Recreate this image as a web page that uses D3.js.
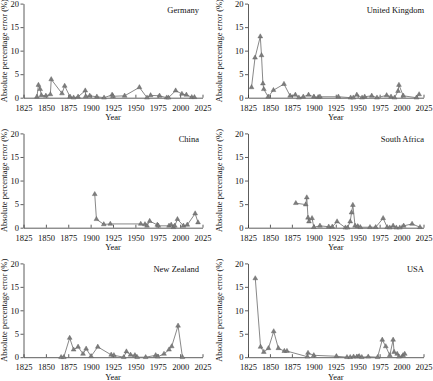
<!DOCTYPE html>
<html><head><meta charset="utf-8">
<script src="https://cdn.jsdelivr.net/npm/d3@7"></script>
<style>body{margin:0;background:#fff}svg{display:block}text{font-family:"Liberation Serif","Times New Roman",serif}</style>
</head><body>
<svg id="c" width="433" height="381"></svg>
<script>
const xTicks = [1825, 1850, 1875, 1900, 1925, 1950, 1975, 2000, 2025];
const yTicks = [0, 5, 10, 15, 20];
const countries = ["Germany", "United Kingdom", "China", "South Africa", "New Zealand", "USA"];

const germanyYears = [1840,1841.7,1843.6,1845,1850,1855,1856,1868,1871,1877,1881,1886,1894,1894.5,1899,1907,1915,1924,1925,1938,1954.5,1963,1967,1977,1985,1987,1995,2002,2007,2013,2016];
const germanyValues = [0.2,2.7,1.8,0.5,0.4,0.7,3.9,0.9,2.5,0.2,0,0.2,1.5,0.3,0.4,0.2,0,0.6,0.3,0.4,2.2,0,0.5,0.4,0,0,1.5,0.8,0.6,0.1,0.1];

const ukYears = [1829,1833,1839,1840.4,1842,1843,1848,1854,1866,1873,1879,1883,1888,1894,1900,1905,1907,1928,1942,1945,1949,1955,1958,1966,1972,1983,1988,1992,1996,1997,2002,2017,2020];
const ukValues = [2.2,8.5,13.0,9.0,3.0,1.8,0.2,1.6,2.9,0.4,0.6,0,0.2,0.6,0.2,0.1,0.2,0.2,0,0,0.6,0,0.2,0.4,0,0.5,0.2,0,1.4,2.7,0.4,0,0.7];

const chinaYears = [1904.6,1906.5,1914.7,1922,1956,1960.7,1963,1966,1974.5,1975.6,1987.6,1990,1992.5,1994,1997,2003.7,2008,2016.8,2020];
const chinaValues = [7.1,1.8,0.7,0.8,0.8,0.7,0.4,1.4,0.6,0.4,0.4,0.6,0.1,0.4,1.8,0.4,0.6,3.0,1.1];

const southAfricaYears = [1879.5,1890.8,1892,1893.4,1894.5,1898,1900,1907,1917,1921,1926.5,1936,1938.5,1941.5,1943,1944.5,1947,1950,1953,1964,1970.5,1979,1983.6,1986.6,1990.4,1994,1998,2002.4,2012,2021];
const southAfricaValues = [5.2,4.9,6.4,2.1,1.3,2.0,0.1,0.4,0.2,0.2,1.3,0,0,1.3,3.2,4.8,0.4,0.3,0.1,0.1,0.1,2.0,0.1,0,0.4,0,0,0.4,0.8,0.1];

const newZealandYears = [1867,1870,1876.6,1881,1886,1891.5,1895,1900.5,1908,1923,1926,1937,1940,1944.6,1949.5,1952,1961.5,1972.7,1975,1982,1987.6,1990.6,1997.7,2002.6];
const newZealandValues = [0,0,4.1,1.6,2.2,0.7,1.8,0.2,2.2,0.5,0.4,0,1.2,0.5,0.4,0,0,0.4,0.1,0.7,1.6,2.3,6.7,0];

const usaYears = [1833.3,1839.3,1843,1848.3,1854.3,1859.6,1866.4,1869.4,1892.7,1893.4,1900,1925.8,1937.8,1941.5,1945.3,1949,1951.7,1954.7,1962,1972.7,1978,1982,1986.6,1990.4,1991.5,1995,1997,2001.7,2003.6];
const usaValues = [16.8,2.2,1.1,1.9,5.5,1.9,1.3,1.3,0.1,0.9,0.4,0.2,0,0,0.1,0.1,0.2,0,0.1,0,3.7,2.3,0.4,3.7,1.1,0.7,0.1,0.4,0.7];

const seriesYears = [germanyYears, ukYears, chinaYears, southAfricaYears, newZealandYears, usaYears];
const seriesValues = [germanyValues, ukValues, chinaValues, southAfricaValues, newZealandValues, usaValues];

const svg = d3.select("#c");
const colX = [[23.5, 202.5], [248, 423.5]];
const rowY = [[3.6, 97.7], [133.4, 227.7], [263.4, 357.2]];
const fs = 8.5;

countries.forEach((name, i) => {
  const col = i % 2, row = Math.floor(i / 2);
  const x = d3.scaleLinear().domain([1825, 2025]).range(colX[col]);
  const y = d3.scaleLinear().domain([0, 20]).range([rowY[row][1], rowY[row][0]]);
  const g = svg.append("g");

  const xa = g.append("g").attr("transform", `translate(0,${y(0)})`)
    .call(d3.axisBottom(x).tickValues(xTicks).tickFormat(d3.format("d")).tickSizeInner(-3).tickSizeOuter(0).tickPadding(7));
  const ya = g.append("g").attr("transform", `translate(${x(1825)},0)`)
    .call(d3.axisLeft(y).tickValues(yTicks).tickSizeInner(3).tickSizeOuter(0).tickPadding(1.5));
  [xa, ya].forEach(a => {
    a.selectAll("path,line").attr("stroke", "#333").attr("stroke-width", 0.8);
    a.selectAll("text").attr("font-size", fs).attr("fill", "#111").attr("font-family", '"Liberation Serif",serif');
  });

  g.append("text").attr("x", (colX[col][0] + colX[col][1]) / 2).attr("y", y(0) + 22.3)
    .attr("text-anchor", "middle").attr("font-size", fs).attr("fill", "#111").text("Year");
  const cy = (rowY[row][0] + rowY[row][1]) / 2;
  const tx = col === 0 ? 6.5 : 222;
  g.append("text").attr("transform", `translate(${tx},${cy}) rotate(-90)`)
    .attr("text-anchor", "middle").attr("font-size", fs).attr("fill", "#111").text("Absolute percentage error (%)");
  g.append("text").attr("x", col === 0 ? 199 : 424).attr("y", rowY[row][0] + 9)
    .attr("text-anchor", "end").attr("font-size", fs).attr("fill", "#111").text(name);

  const data = seriesYears[i].map((yr, k) => [yr, seriesValues[i][k]]);
  g.append("path").datum(data)
    .attr("d", d3.line().x(d => x(d[0])).y(d => y(d[1])))
    .attr("fill", "none").attr("stroke", "#7a7a7a").attr("stroke-width", 0.9);
  g.selectAll(".m").data(data).enter().append("path")
    .attr("transform", d => `translate(${x(d[0])},${y(d[1])})`)
    .attr("d", d3.symbol().type(d3.symbolTriangle).size(10))
    .attr("fill", "#7d7d7d").attr("stroke", "#5a5a5a").attr("stroke-width", 0.4);
});
</script>
</body></html>
